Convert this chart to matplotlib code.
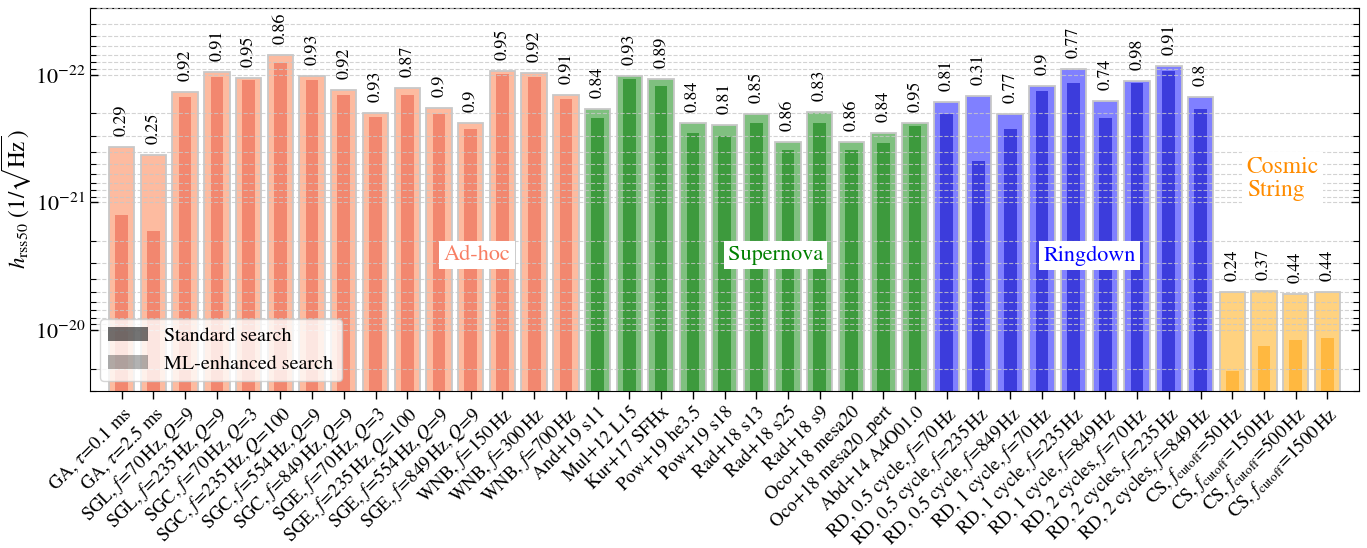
import numpy as np
import matplotlib.pyplot as plt
from matplotlib.patches import Patch
from matplotlib.ticker import NullFormatter

plt.rcParams['font.family'] = 'serif'
plt.rcParams['font.serif'] = ['STIXGeneral']
plt.rcParams['mathtext.fontset'] = 'stix'

# waveform labels
labels = [
    r"GA, $\tau\!=\!0.1$ ms", r"GA, $\tau\!=\!2.5$ ms",
    r"SGL, $f\!=\!70\,\mathrm{Hz}, Q\!=\!9$", r"SGL, $f\!=\!235\,\mathrm{Hz}, Q\!=\!9$",
    r"SGC, $f\!=\!70\,\mathrm{Hz}, Q\!=\!3$", r"SGC, $f\!=\!235\,\mathrm{Hz}, Q\!=\!100$",
    r"SGC, $f\!=\!554\,\mathrm{Hz}, Q\!=\!9$", r"SGC, $f\!=\!849\,\mathrm{Hz}, Q\!=\!9$",
    r"SGE, $f\!=\!70\,\mathrm{Hz}, Q\!=\!3$", r"SGE, $f\!=\!235\,\mathrm{Hz}, Q\!=\!100$",
    r"SGE, $f\!=\!554\,\mathrm{Hz}, Q\!=\!9$", r"SGE, $f\!=\!849\,\mathrm{Hz}, Q\!=\!9$",
    r"WNB, $f\!=\!150\,\mathrm{Hz}$", r"WNB, $f\!=\!300\,\mathrm{Hz}$", r"WNB, $f\!=\!700\,\mathrm{Hz}$",
    "And+19 s11", "Mul+12 L15", "Kur+17 SFHx", "Pow+19 he3.5", "Pow+19 s18",
    "Rad+18 s13", "Rad+18 s25", "Rad+18 s9", "Oco+18 mesa20", "Oco+18 mesa20_pert",
    "Abd+14 A4O01.0",
    r"RD, 0.5 cycle, $f\!=\!70\,\mathrm{Hz}$", r"RD, 0.5 cycle, $f\!=\!235\,\mathrm{Hz}$",
    r"RD, 0.5 cycle, $f\!=\!849\,\mathrm{Hz}$", r"RD, 1 cycle, $f\!=\!70\,\mathrm{Hz}$",
    r"RD, 1 cycle, $f\!=\!235\,\mathrm{Hz}$", r"RD, 1 cycle, $f\!=\!849\,\mathrm{Hz}$",
    r"RD, 2 cycles, $f\!=\!70\,\mathrm{Hz}$", r"RD, 2 cycles, $f\!=\!235\,\mathrm{Hz}$",
    r"RD, 2 cycles, $f\!=\!849\,\mathrm{Hz}$",
    r"CS, $f_{\mathrm{cutoff}}\!=\!50\,\mathrm{Hz}$", r"CS, $f_{\mathrm{cutoff}}\!=\!150\,\mathrm{Hz}$",
    r"CS, $f_{\mathrm{cutoff}}\!=\!500\,\mathrm{Hz}$", r"CS, $f_{\mathrm{cutoff}}\!=\!1500\,\mathrm{Hz}$",
]
groups = ['adhoc'] * 15 + ['sn'] * 11 + ['rd'] * 9 + ['cs'] * 4

# h_rss50 values
h_std = [1.26e-21, 1.68e-21, 1.49e-22, 1.04e-22, 1.11e-22, 8.1e-23, 1.10e-22, 1.43e-22,
         2.15e-22, 1.45e-22, 2.03e-22, 2.66e-22, 9.85e-23, 1.05e-22, 1.55e-22,
         2.2e-22, 1.09e-22, 1.22e-22, 2.84e-22, 3.0e-22, 2.40e-22, 3.9e-22, 2.37e-22,
         3.9e-22, 3.40e-22, 2.52e-22,
         2.03e-22, 4.76e-22, 2.64e-22, 1.33e-22, 1.16e-22, 2.17e-22, 1.155e-22, 9.3e-23, 1.87e-22,
         2.08e-20, 1.33e-20, 1.20e-20, 1.15e-20]
h_ml = [3.67e-22, 4.24e-22, 1.36e-22, 9.5e-23, 1.06e-22, 7.0e-23, 1.02e-22, 1.32e-22,
        2.0e-22, 1.26e-22, 1.82e-22, 2.40e-22, 9.3e-23, 9.65e-23, 1.43e-22,
        1.85e-22, 1.02e-22, 1.09e-22, 2.40e-22, 2.47e-22, 2.04e-22, 3.38e-22, 1.96e-22,
        3.38e-22, 2.87e-22, 2.40e-22,
        1.63e-22, 1.47e-22, 2.03e-22, 1.22e-22, 8.98e-23, 1.62e-22, 1.13e-22, 8.55e-23, 1.49e-22,
        5.0e-21, 4.9e-21, 5.23e-21, 5.05e-21]
ratio = ['0.29', '0.25', '0.92', '0.91', '0.95', '0.86', '0.93', '0.92', '0.93', '0.87',
         '0.9', '0.9', '0.95', '0.92', '0.91',
         '0.84', '0.93', '0.89', '0.84', '0.81', '0.85', '0.86', '0.83', '0.86', '0.84', '0.95',
         '0.81', '0.31', '0.77', '0.9', '0.77', '0.74', '0.98', '0.91', '0.8',
         '0.24', '0.37', '0.44', '0.44']
yticks = [1e-22, 1e-21, 1e-20]

wide_col = {'adhoc': '#FDBBA0', 'sn': '#80C080', 'rd': '#8080FF', 'cs': '#FFD280'}
narrow_col = {'adhoc': '#F2876F', 'sn': '#3D9A3D', 'rd': '#3C3CDC', 'cs': '#FFB840'}

fig = plt.figure(figsize=(13.67, 5.48), dpi=100)
ax = fig.add_axes([0.0658, 0.2865, 0.9285, 0.699])
ax.set_yscale('log')

x = np.arange(len(labels))
base = 1e-19
for i in range(len(labels)):
    g = groups[i]
    ax.bar(x[i], h_ml[i] - base, bottom=base, width=0.8, color=wide_col[g],
           edgecolor='#c8c8c8', linewidth=1.3, zorder=1)
    ax.bar(x[i], h_std[i] - base, bottom=base, width=0.4, color=narrow_col[g],
           edgecolor='none', zorder=1.5)
    ax.text(x[i], h_ml[i] * 0.82, ratio[i], rotation=90, ha='center', va='bottom',
            fontsize=13)

ax.set_yticks(yticks)
ax.set_ylim(3e-20, 3e-23)
ax.set_xlim(-1, 39)
ax.set_axisbelow(False)
ax.grid(True, which='both', axis='y', ls='--', color='#c8c8c8', lw=0.8, alpha=0.8)
ax.yaxis.set_minor_formatter(NullFormatter())

ax.set_xticks(x)
ax.set_xticklabels(labels, rotation=45, ha='right', rotation_mode='anchor', fontsize=13.5)
ax.tick_params(axis='x', direction='out', length=6, width=1, pad=3)
ax.tick_params(axis='y', which='major', direction='in', left=True, right=True,
               length=6, width=1, labelsize=16)
ax.tick_params(axis='y', which='minor', direction='in', left=True, right=True,
               length=4, width=0.8)
ax.set_ylabel(r"$h_{\mathrm{rss50}}$ $(1/\sqrt{\mathrm{Hz}})$", fontsize=16.5)
ax.yaxis.set_label_coords(-0.044, 0.5)

box = dict(facecolor='white', edgecolor='none', pad=3)
ax.text(11.2, 2.6e-21, 'Ad-hoc', color='#F87E63', fontsize=16, ha='center', va='center', bbox=box)
ax.text(20.6, 2.6e-21, 'Supernova', color='green', fontsize=16, ha='center', va='center', bbox=box)
ax.text(30.5, 2.6e-21, 'Ringdown', color='blue', fontsize=16, ha='center', va='center', bbox=box)
ax.text(35.45, 6.5e-22, 'Cosmic\nString', color='darkorange', fontsize=17, ha='left', va='center',
        linespacing=1.1, bbox=box)

handles = [Patch(facecolor='black', alpha=0.55, label='Standard search'),
           Patch(facecolor='black', alpha=0.3, label='ML-enhanced search')]
ax.legend(handles=handles, loc='lower left', fontsize=14.5)

plt.savefig('out.png', dpi=100)
